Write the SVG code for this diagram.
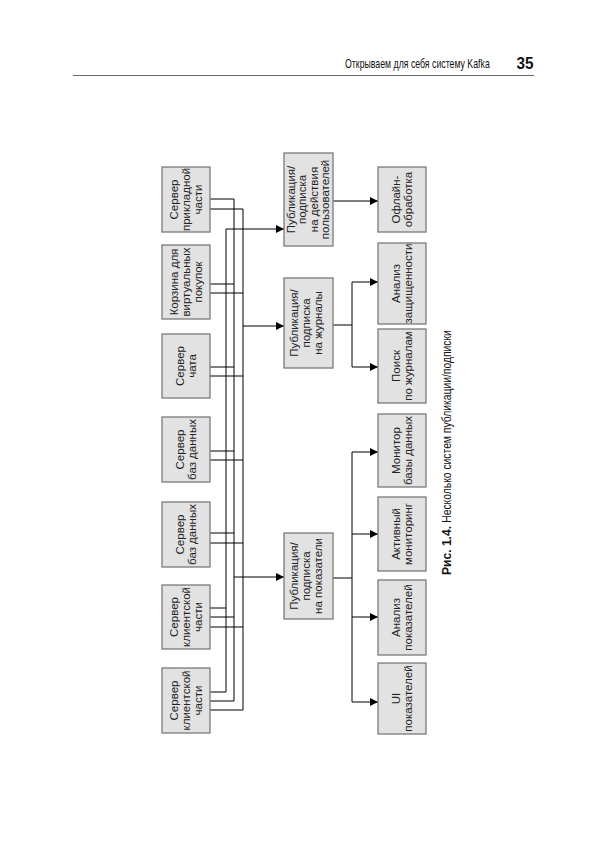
<svg xmlns="http://www.w3.org/2000/svg" width="608" height="859" viewBox="0 0 608 859">
<style>
.box{fill:#e2e2e2;stroke:#7a7a7a;stroke-width:1.3}
.lbl{font-family:"Liberation Sans",Arial,sans-serif;font-size:11.5px;fill:#222;text-anchor:middle}
.ln{stroke:#000;stroke-width:1;fill:none}
.hdr{font-family:"Liberation Sans",Arial,sans-serif;fill:#111}
</style>
<defs>
<marker id="arr" markerUnits="userSpaceOnUse" markerWidth="8" markerHeight="8" refX="8" refY="4" orient="auto">
<path d="M0,0 L8,4 L0,8 z" fill="#000"/>
</marker>
</defs>
<rect width="608" height="859" fill="#fff"/>
<g id="header">
<text class="hdr" transform="translate(345,67.5) scale(0.75,1)" x="0" y="0" font-size="12.5" textLength="193" lengthAdjust="spacingAndGlyphs">Открываем для себя систему Kafka</text>
<text class="hdr" x="516.5" y="68.5" font-size="16" font-weight="bold" font-family="'Open Sans','Liberation Sans',sans-serif" textLength="17" lengthAdjust="spacingAndGlyphs">35</text>
<line x1="73" y1="75.5" x2="534" y2="75.5" stroke="#666" stroke-width="1"/>
</g>
<g id="connectors">
<!-- bus A -->
<path class="ln" d="M226,692 V229"/>
<path class="ln" d="M226,229 H284" marker-end="url(#arr)"/>
<path class="ln" d="M210,608 H226 M210,692 H226"/>
<!-- bus B -->
<path class="ln" d="M234,199 V701"/>
<path class="ln" d="M234,577 H284" marker-end="url(#arr)"/>
<path class="ln" d="M210,199 H234 M210,284 H234 M210,367 H234 M210,451 H234 M210,533 H234 M210,617 H234 M210,701 H234"/>
<!-- bus C -->
<path class="ln" d="M243,209 V710"/>
<path class="ln" d="M243,326 H284" marker-end="url(#arr)"/>
<path class="ln" d="M210,209 H243 M210,293 H243 M210,376 H243 M210,460 H243 M210,543 H243 M210,627 H243 M210,710 H243"/>
<!-- actions -> offline -->
<path class="ln" d="M333,201 H378" marker-end="url(#arr)"/>
<!-- logs fork -->
<path class="ln" d="M333,325 H352 M352,282 V367"/>
<path class="ln" d="M352,282 H378" marker-end="url(#arr)"/>
<path class="ln" d="M352,367 H378" marker-end="url(#arr)"/>
<!-- metrics fork -->
<path class="ln" d="M333,578 H352 M352,452 V702"/>
<path class="ln" d="M352,452 H378" marker-end="url(#arr)"/>
<path class="ln" d="M352,534 H378" marker-end="url(#arr)"/>
<path class="ln" d="M352,617 H378" marker-end="url(#arr)"/>
<path class="ln" d="M352,702 H378" marker-end="url(#arr)"/>
</g>
<g id="app-server">
<rect class="box" x="162" y="167" width="48" height="65"/>
<text class="lbl" transform="translate(186,199.5) rotate(-90)"><tspan x="0" y="-8">Сервер</tspan><tspan x="0" y="4">прикладной</tspan><tspan x="0" y="16">части</tspan></text>
</g>
<g id="cart">
<rect class="box" x="162" y="245" width="48" height="74"/>
<text class="lbl" transform="translate(186,282) rotate(-90)"><tspan x="0" y="-8">Корзина для</tspan><tspan x="0" y="4">виртуальных</tspan><tspan x="0" y="16">покупок</tspan></text>
</g>
<g id="chat-server">
<rect class="box" x="162" y="334" width="48" height="64"/>
<text class="lbl" transform="translate(186,366) rotate(-90)"><tspan x="0" y="-2">Сервер</tspan><tspan x="0" y="10">чата</tspan></text>
</g>
<g id="db-server-1">
<rect class="box" x="162" y="417" width="48" height="65"/>
<text class="lbl" transform="translate(186,449.5) rotate(-90)"><tspan x="0" y="-2">Сервер</tspan><tspan x="0" y="10">баз данных</tspan></text>
</g>
<g id="db-server-2">
<rect class="box" x="162" y="502" width="48" height="65"/>
<text class="lbl" transform="translate(186,534.5) rotate(-90)"><tspan x="0" y="-2">Сервер</tspan><tspan x="0" y="10">баз данных</tspan></text>
</g>
<g id="frontend-1">
<rect class="box" x="162" y="585" width="48" height="64"/>
<text class="lbl" transform="translate(186,617) rotate(-90)"><tspan x="0" y="-8">Сервер</tspan><tspan x="0" y="4">клиентской</tspan><tspan x="0" y="16">части</tspan></text>
</g>
<g id="frontend-2">
<rect class="box" x="162" y="668" width="48" height="65"/>
<text class="lbl" transform="translate(186,700.5) rotate(-90)"><tspan x="0" y="-8">Сервер</tspan><tspan x="0" y="4">клиентской</tspan><tspan x="0" y="16">части</tspan></text>
</g>
<g id="pubsub-actions">
<rect class="box" x="284" y="153" width="49" height="93"/>
<text class="lbl" transform="translate(308.5,199.5) rotate(-90)"><tspan x="0" y="-14">Публикация/</tspan><tspan x="0" y="-2.5">подписка</tspan><tspan x="0" y="9">на действия</tspan><tspan x="0" y="20.5">пользователей</tspan></text>
</g>
<g id="pubsub-logs">
<rect class="box" x="284" y="278" width="49" height="90"/>
<text class="lbl" transform="translate(305.5,323) rotate(-90)"><tspan x="0" y="-8">Публикация/</tspan><tspan x="0" y="4">подписка</tspan><tspan x="0" y="16">на журналы</tspan></text>
</g>
<g id="pubsub-metrics">
<rect class="box" x="284" y="533" width="49" height="86"/>
<text class="lbl" transform="translate(305.5,576) rotate(-90)"><tspan x="0" y="-8">Публикация/</tspan><tspan x="0" y="4">подписка</tspan><tspan x="0" y="16">на показатели</tspan></text>
</g>
<g id="offline">
<rect class="box" x="378" y="167" width="48" height="65"/>
<text class="lbl" transform="translate(402,199.5) rotate(-90)"><tspan x="0" y="-2">Офлайн-</tspan><tspan x="0" y="10">обработка</tspan></text>
</g>
<g id="security">
<rect class="box" x="378" y="243" width="48" height="81"/>
<text class="lbl" transform="translate(402,283.5) rotate(-90)"><tspan x="0" y="-2">Анализ</tspan><tspan x="0" y="10">защищенности</tspan></text>
</g>
<g id="log-search">
<rect class="box" x="378" y="329" width="48" height="74"/>
<text class="lbl" transform="translate(402,366) rotate(-90)"><tspan x="0" y="-2">Поиск</tspan><tspan x="0" y="10">по журналам</tspan></text>
</g>
<g id="db-monitor">
<rect class="box" x="378" y="414" width="48" height="73"/>
<text class="lbl" transform="translate(402,450.5) rotate(-90)"><tspan x="0" y="-2">Монитор</tspan><tspan x="0" y="10">базы данных</tspan></text>
</g>
<g id="active-monitoring">
<rect class="box" x="378" y="497" width="48" height="74"/>
<text class="lbl" transform="translate(402,534) rotate(-90)"><tspan x="0" y="-2">Активный</tspan><tspan x="0" y="10">мониторинг</tspan></text>
</g>
<g id="metrics-analysis">
<rect class="box" x="378" y="580" width="48" height="75"/>
<text class="lbl" transform="translate(402,617.5) rotate(-90)"><tspan x="0" y="-2">Анализ</tspan><tspan x="0" y="10">показателей</tspan></text>
</g>
<g id="metrics-ui">
<rect class="box" x="378" y="663" width="48" height="71"/>
<text class="lbl" transform="translate(402,698.5) rotate(-90)"><tspan x="0" y="-2">UI</tspan><tspan x="0" y="10">показателей</tspan></text>
</g>
<g id="caption" transform="translate(451,575) rotate(-90) scale(0.9,1)">
<text class="hdr" x="0" y="0" font-size="12" font-weight="bold" textLength="54.5" lengthAdjust="spacingAndGlyphs">Рис. 1.4.</text>
<text class="hdr" x="58" y="0" font-size="12" textLength="214" lengthAdjust="spacingAndGlyphs">Несколько систем публикации/подписки</text>
</g>
</svg>
